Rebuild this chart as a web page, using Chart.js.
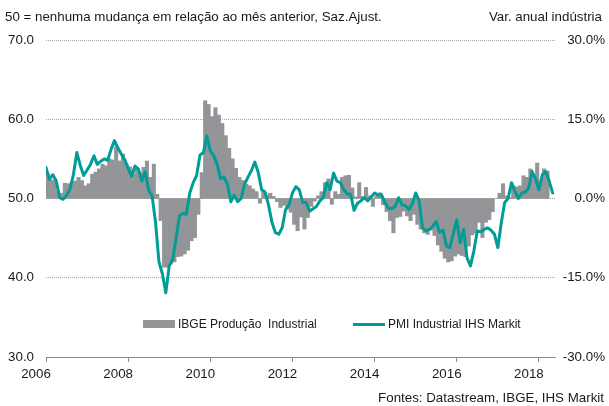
<!DOCTYPE html>
<html>
<head>
<meta charset="utf-8">
<script src="https://cdn.jsdelivr.net/npm/chart.js@4.4.1/dist/chart.umd.min.js"></script>
<style>
  html, body { margin: 0; padding: 0; background: #fff; }
  #wrap { position: relative; width: 609px; height: 406px; font-family: "Liberation Sans", Arial, sans-serif; color: #1a1a1a; }
  canvas { position: absolute; left: 0; top: 0; }
  .txt { position: absolute; font-size: 13.33px; line-height: 16px; white-space: nowrap; }
  .leg { position: absolute; font-size: 12px; line-height: 14px; white-space: nowrap; }
  .sw { position: absolute; }
</style>
</head>
<body>
<div id="wrap">
  <canvas id="c" width="609" height="406"></canvas>
  <div class="txt" style="left:5px; top:9px;">50 = nenhuma mudança em relação ao mês anterior, Saz.Ajust.</div>
  <div class="txt" style="right:7px; top:9px;">Var. anual indústria</div>
  <div class="sw" style="left:143px; top:320px; width:32px; height:8px; background:#939598;"></div>
  <div class="leg" style="left:178px; top:317px;">IBGE Produção&nbsp; Industrial</div>
  <div class="sw" style="left:353px; top:322.5px; width:32px; height:3px; background:#009c96;"></div>
  <div class="leg" style="left:388px; top:317px;">PMI Industrial IHS Markit</div>
  <div class="txt" style="right:5px; top:390px;">Fontes: Datastream, IBGE, IHS Markit</div>
</div>
<script>
// ---- DATA (monthly, Jan 2006 onward) ----
const startYear = 2006;
const yearTicks = ['2006', '2008', '2010', '2012', '2014', '2016', '2018'];
const seriesNames = ['IBGE Produção  Industrial', 'PMI Industrial IHS Markit'];

// PMI Industrial IHS Markit (left axis, index), Jan 2006 - May 2018
const pmi = [
  53.9, 52.4, 53.0, 52.2, 50.1, 49.9, 50.4, 51.2, 53.0, 55.8, 54.2, 52.9,
  53.6, 54.3, 55.4, 54.3, 54.7, 55.0, 54.8, 56.2, 57.3, 56.4, 55.6, 54.9,
  53.8, 52.8, 54.1, 53.7, 52.2, 53.4, 51.0, 50.3, 47.0, 42.0, 40.5, 38.1,
  41.5, 42.3, 45.0, 47.8, 48.1, 48.0, 50.7, 52.0, 52.9, 55.5, 55.8, 57.9,
  56.0, 55.4, 54.3, 52.5, 52.7, 51.8, 49.6, 50.4, 49.6, 50.0, 51.8, 52.7,
  53.5, 54.6, 53.3, 51.1, 50.8, 49.2, 47.0, 45.7, 45.5, 46.3, 48.6, 49.2,
  50.7, 51.5, 51.1, 49.5, 49.5, 48.4, 48.7, 49.0, 49.7, 50.1, 52.0, 51.1,
  53.2, 52.2, 52.0, 51.1, 50.6, 50.5, 48.5, 49.4, 49.7, 50.1, 49.7, 50.2,
  50.7, 50.4, 50.5, 49.5, 48.8, 48.7, 49.0, 50.1, 49.2, 49.1, 48.6, 49.3,
  50.7, 49.7, 46.3, 45.9, 46.1, 46.5, 47.1, 45.7, 46.0, 44.0, 43.8, 45.6,
  47.3, 44.4, 46.1, 42.5, 41.5, 43.4, 45.9, 45.8, 46.1, 46.3, 46.0, 45.5,
  43.8, 46.9, 49.5, 50.0, 52.0, 50.9, 50.0, 50.7, 50.8, 51.3, 53.4, 52.5,
  51.1, 53.0, 53.4, 52.2, 50.7
];

// IBGE Produção Industrial, var. anual % (right axis), Jan 2006 - Mar 2018
const ibge = [
  4.7, 3.5, 3.5, 1.4, 1.0, 2.9, 2.8, 3.0, 3.3, 4.0, 3.4, 2.4,
  2.8, 4.6, 5.0, 5.6, 6.5, 6.2, 7.5, 7.3, 9.8, 7.1, 8.4, 6.5,
  6.0, 4.6, 5.9, 4.9, 5.9, 7.1, 4.0, 6.5, 0.8, -4.2, -13.0, -13.0,
  -12.4, -12.0, -11.0, -10.9, -10.5, -9.8, -8.0, -7.4, -3.0, 4.9, 18.5, 17.8,
  15.5, 17.2, 15.8, 14.2, 11.9, 9.5, 7.5, 5.7, 4.0, 3.4, 2.7, 2.4,
  1.8, 1.3, -0.9, 1.6, 0.6, 1.0, 0.4, -0.6, -1.7, -1.3, -2.0, -2.6,
  -4.9, -6.1, -3.5, -5.8, -3.6, -1.5, -0.5, 0.5, 1.3, 3.0, 3.7, -1.1,
  1.3, 0.8, 4.0, 4.3, 4.4, 2.0, 0.3, 3.0, 0.4, 2.1, 0.5, -1.5,
  0.4, 1.1, -1.2, -2.5, -4.2, -6.5, -3.6, -3.4, -2.4, -3.3, -4.2, -3.0,
  -4.9, -5.8, -6.5, -6.8, -6.0, -7.0, -8.8, -10.0, -11.3, -12.0, -11.8, -10.9,
  -10.5, -10.8, -11.0, -9.0, -6.9, -6.5, -4.5, -7.4, -4.5, -4.0, -2.5, 0.0,
  1.0, 2.8, 0.5, 0.2, 2.4, 2.2, 2.4, 4.3, 4.0, 5.6, 4.5, 6.7,
  3.3, 5.6, 5.2
];

// ---- BUILD ----
const TEAL = '#009c96';
const GREY = '#939598';
const TXT = '#1a1a1a';
const FONT = { family: "'Liberation Sans', Arial, sans-serif", size: 13.33 };

const pmiPts = pmi.map((v, i) => ({ x: i, y: v }));
const ibgePts = ibge.map((v, i) => ({ x: i + 0.5, y: v }));
const tickVals = yearTicks.map(y => (parseInt(y, 10) - startYear) * 12);

new Chart(document.getElementById('c'), {
  data: {
    datasets: [
      {
        type: 'line', label: seriesNames[1], data: pmiPts, yAxisID: 'y', xAxisID: 'x',
        borderColor: TEAL, borderWidth: 3, pointRadius: 0, tension: 0,
        borderJoinStyle: 'round', borderCapStyle: 'round', order: 0
      },
      {
        type: 'bar', label: seriesNames[0], data: ibgePts, yAxisID: 'y2', xAxisID: 'x',
        backgroundColor: GREY, borderWidth: 0, barPercentage: 1.0, categoryPercentage: 1.0,
        grouped: false, order: 1
      }
    ]
  },
  options: {
    responsive: false,
    animation: false,
    events: [],
    layout: { padding: { left: 5, right: 4, top: 40, bottom: 0 } },
    plugins: { legend: { display: false }, tooltip: { enabled: false }, title: { display: false } },
    scales: {
      x: {
        type: 'linear', position: 'bottom', min: 0, max: 148.7, offset: false,
        afterFit: s => { s.height = 49; },
        afterBuildTicks: s => { s.ticks = tickVals.map(v => ({ value: v })); },
        ticks: {
          callback: (v) => String(startYear + Math.round(v / 12)),
          color: TXT, font: FONT, maxRotation: 0, autoSkip: false, padding: 4, labelOffset: -10
        },
        grid: { offset: false, drawOnChartArea: false, drawTicks: true, tickLength: 5, tickColor: '#8c8c8c', tickWidth: 1 },
        border: { display: true, color: '#8c8c8c', width: 1 }
      },
      y: {
        position: 'left', min: 30, max: 70,
        afterFit: s => { s.width = 41; },
        afterBuildTicks: s => { s.ticks = [30, 40, 50, 60, 70].map(v => ({ value: v })); },
        ticks: { callback: v => Number(v).toFixed(1), color: TXT, font: FONT, crossAlign: 'near', padding: 12 },
        grid: { drawTicks: false, color: ctx => (ctx.tick && ctx.tick.value === 30 ? 'rgba(0,0,0,0)' : '#a6a6a6'), lineWidth: 1 },
        border: { display: false, dash: [1, 1] }
      },
      y2: {
        position: 'right', min: -30, max: 30,
        afterFit: s => { s.width = 50; },
        afterBuildTicks: s => { s.ticks = [-30, -15, 0, 15, 30].map(v => ({ value: v })); },
        ticks: { callback: v => Number(v).toFixed(1) + '%', color: TXT, font: FONT, crossAlign: 'far', padding: 0 },
        grid: { display: false, drawTicks: false },
        border: { display: false }
      }
    }
  }
});
</script>
</body>
</html>
